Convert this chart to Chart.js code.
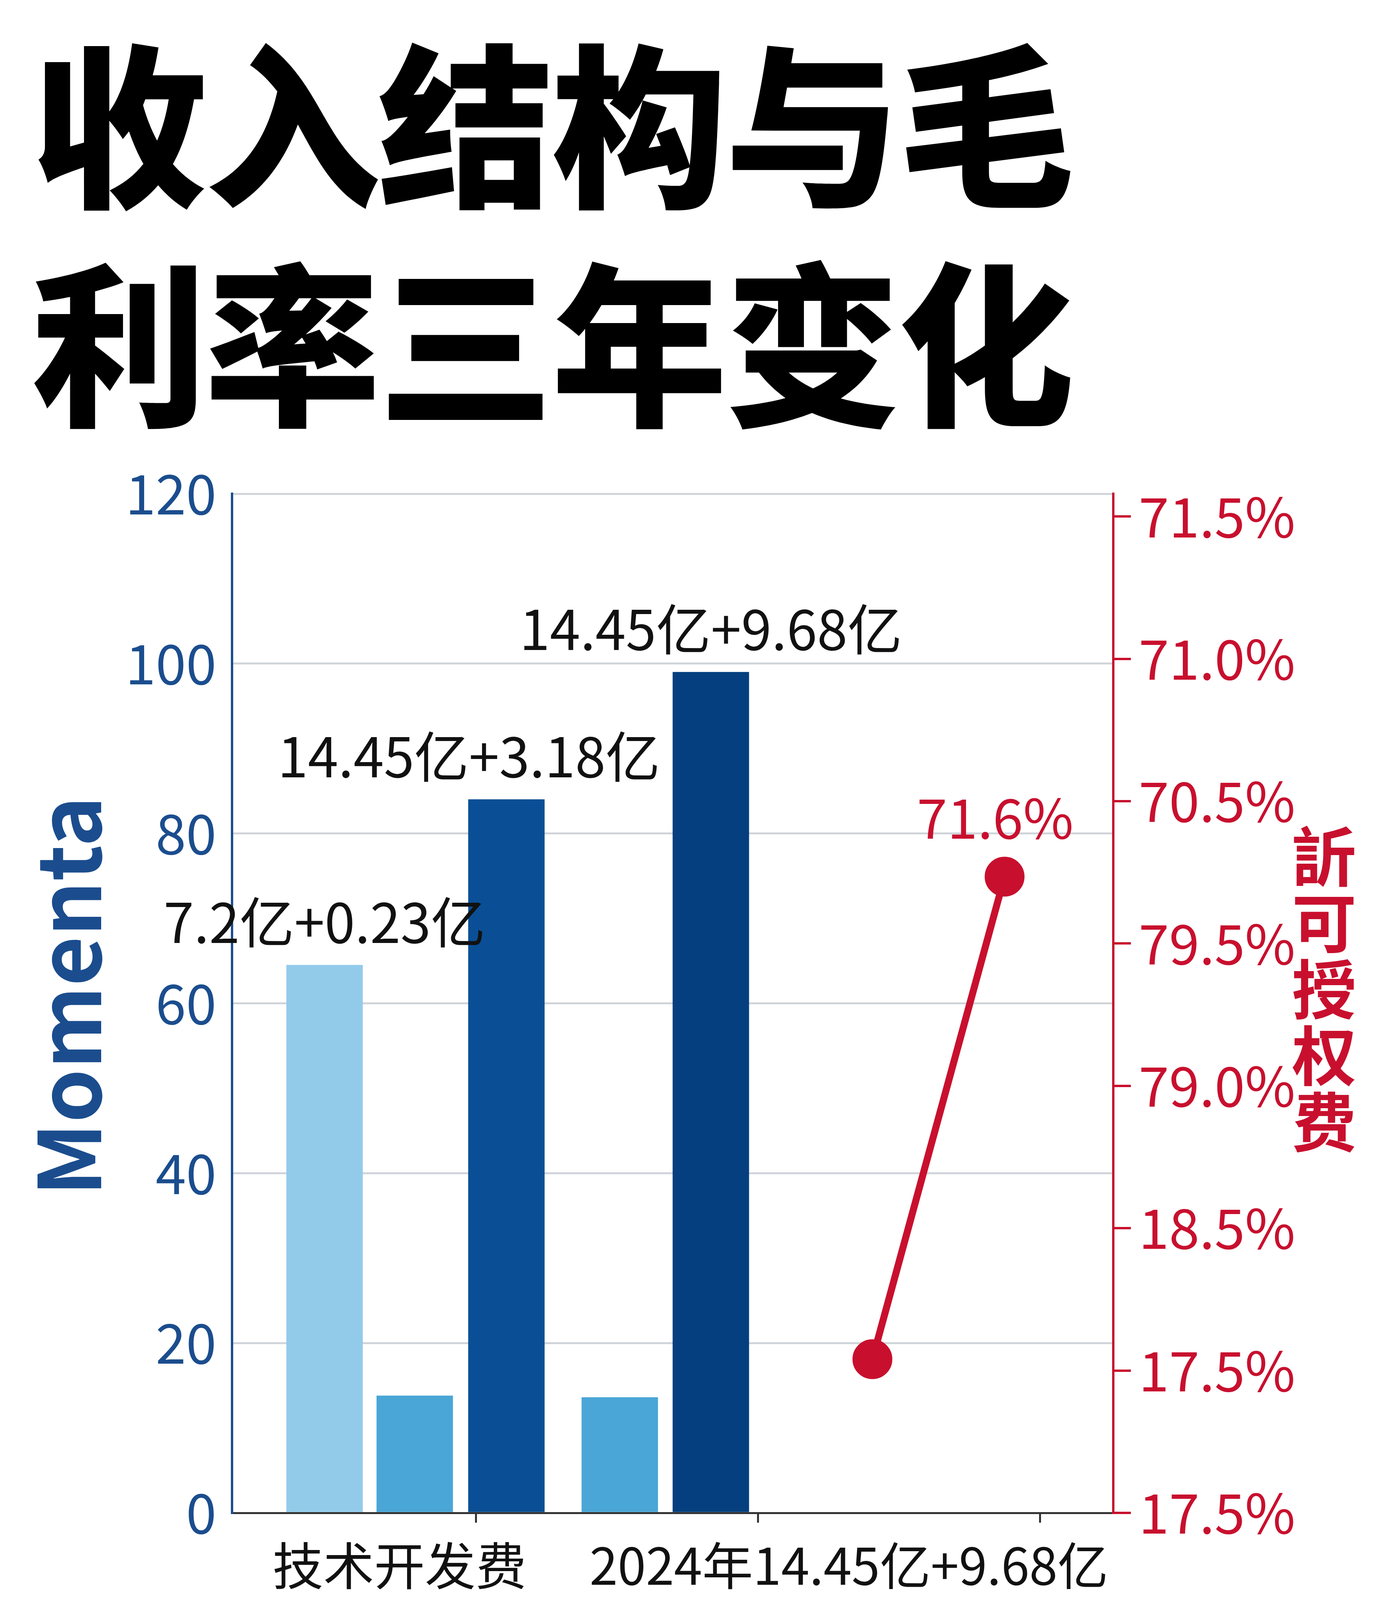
<!DOCTYPE html>
<html><head><meta charset="utf-8">
<script src="https://cdn.jsdelivr.net/npm/chart.js@4"></script>
<style>
body{margin:0;width:3520px;height:4704px;background:#fff;position:relative;overflow:hidden;font-family:"Noto Sans CJK SC",sans-serif}
.t{position:absolute;left:80px;font-weight:900;color:#000;white-space:nowrap;letter-spacing:-6px}
#wrap{position:absolute;left:0;top:1140px;width:3520px;height:3000px}
</style></head><body>
<div class="t" style="top:20px;font-size:450px;line-height:560px">收入结构与毛<br>利率三年变化</div>
<div class="t" style="top:4140px;left:70px;font-size:418px;line-height:500px">许可费三年增长42倍</div>
<div id="wrap"><canvas id="c"></canvas></div>
<script>
// data
const groups = ["技术开发费", "2024年14.45亿+9.68亿"];
const barPos = [0.315, 0.622, 0.934, 1.32, 1.63];
const barVals = [64.5, 13.8, 84, 13.6, 99];
const barColors = ["#92cbea", "#4aa6d6", "#0a4f95", "#4aa6d6", "#053f7f"];
const barLabels = ["7.2亿+0.23亿", null, "14.45亿+3.18亿", null, "14.45亿+9.68亿"];
const lineX = [2.18, 2.63];
const lineY = [1.08, 4.47];
const lineLabel = "71.6%";
const rightTicks = ["17.5%", "17.5%", "18.5%", "79.0%", "79.5%", "70.5%", "71.0%", "71.5%"];

const BLUE = "#1b4d8e", RED = "#c8102e";
const FONT = "'Noto Sans CJK SC', sans-serif";

const labelPlugin = {
  id: "labels",
  afterDatasetsDraw(chart) {
    const c = chart.ctx;
    c.save();
    c.font = "140px " + FONT;
    c.fillStyle = "#111";
    c.textAlign = "center";
    c.textBaseline = "bottom";
    chart.getDatasetMeta(0).data.forEach((el, i) => {
      if (!barLabels[i]) return;
      const dx = i === 2 ? -96 : 0;
      c.fillText(barLabels[i], el.x + dx, el.y - 40);
    });
    const pm = chart.getDatasetMeta(1).data[1];
    c.fillStyle = RED;
    c.fillText(lineLabel, pm.x - 24, pm.y - 80);
    // x axis labels
    const a = chart.chartArea, w = a.right - a.left;
    c.fillStyle = "#111";
    c.textBaseline = "top";
    c.font = "130px " + FONT;
    c.fillText(groups[0], a.left + w * 0.19, a.bottom + 70);
    c.fillText(groups[1], a.left + w * 0.7, a.bottom + 70);
    // axis titles
    c.fillStyle = BLUE;
    c.font = "bold 220px " + FONT;
    c.translate(175, 1410);
    c.rotate(-Math.PI / 2);
    c.textBaseline = "middle";
    c.fillText("Momenta", 0, 0);
    c.restore();
    c.save();
    c.fillStyle = RED;
    c.font = "bold 165px " + FONT;
    c.textAlign = "center";
    c.textBaseline = "top";
    "訢可授权费".split("").forEach((ch, i) => c.fillText(ch, 3390, 970 + i * 170));
    c.restore();
  }
};

new Chart(document.getElementById("c"), {
  data: {
    datasets: [
      { type: "bar", data: barPos.map((x, i) => ({ x, y: barVals[i] })), backgroundColor: barColors,
        yAxisID: "y", barThickness: 195, order: 2 },
      { type: "line", data: lineX.map((x, i) => ({ x, y: lineY[i] })), yAxisID: "y2",
        borderColor: RED, backgroundColor: RED, borderWidth: 18, pointRadius: 42, pointHoverRadius: 42, order: 1 }
    ]
  },
  options: {
    responsive: true, maintainAspectRatio: false, animation: false,
    layout: { padding: { top: 84 } },
    plugins: { legend: { display: false }, tooltip: { enabled: false } },
    scales: {
      x: { type: "linear", min: 0, max: 3, offset: false,
        afterBuildTicks(s) { s.ticks = [{ value: 1.31 }, { value: 2.27 }]; },
        grid: { drawOnChartArea: false, color: "#333", lineWidth: 5, tickLength: 25 },
        border: { color: "#333", width: 5 },
        ticks: { display: false },
        afterFit(s) { s.height = 267; } },
      y: { position: "left", min: 0, max: 120,
        ticks: { stepSize: 20, color: BLUE, font: { size: 140, family: FONT }, padding: 40 },
        grid: { color: "#d0d4da", lineWidth: 5, drawTicks: false },
        border: { color: BLUE, width: 6 },
        afterFit(s) { s.width = 594; } },
      y2: { position: "right", min: 0, max: 7.16,
        afterBuildTicks(s) { s.ticks = rightTicks.map((_, i) => ({ value: i })); },
        ticks: { color: RED, font: { size: 140, family: FONT }, padding: 20,
          callback: (v) => rightTicks[v] },
        grid: { drawOnChartArea: false, color: RED, lineWidth: 6, tickLength: 45 },
        border: { color: RED, width: 6 },
        afterFit(s) { s.width = 670; } }
    }
  },
  plugins: [labelPlugin]
});
</script>
</body></html>
